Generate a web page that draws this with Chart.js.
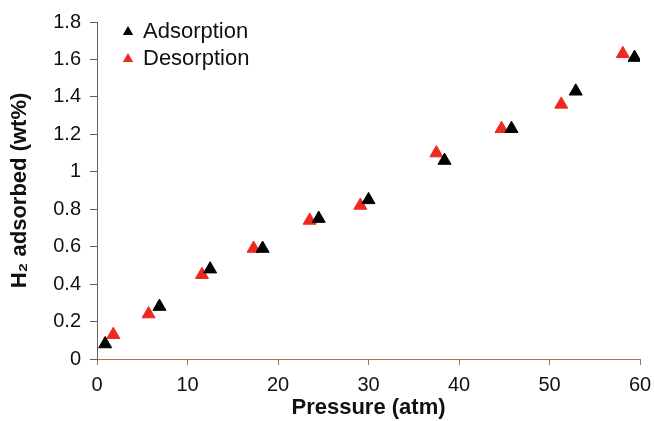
<!DOCTYPE html>
<html>
<head>
<meta charset="utf-8">
<script src="https://cdn.jsdelivr.net/npm/chart.js@4.4.1/dist/chart.umd.min.js"></script>
<style>
  html, body { margin: 0; padding: 0; background: #fff; }
  #wrap { width: 654px; height: 421px; }
</style>
</head>
<body>
<div id="wrap"><canvas id="h2Chart"></canvas></div>
<script>
// pressure (atm) and H2 uptake (wt%)
const adsPressure = [0.9, 6.9, 12.5, 18.3, 24.5, 30.0, 38.4, 45.8, 52.9, 59.4];
const adsValues = [0.08, 0.28, 0.48, 0.59, 0.75, 0.85, 1.06, 1.23, 1.43, 1.61];
const desPressure = [1.8, 5.7, 11.6, 17.3, 23.5, 29.1, 37.5, 44.7, 51.3, 58.1];
const desValues = [0.13, 0.24, 0.45, 0.59, 0.74, 0.82, 1.10, 1.23, 1.36, 1.63];

const xTicks = [0, 10, 20, 30, 40, 50, 60];
const yTicks = [0, 0.2, 0.4, 0.6, 0.8, 1, 1.2, 1.4, 1.6, 1.8];

const FONT = 'Liberation Sans, Arial, Helvetica, sans-serif';

function toPoints(xs, ys) {
  return xs.map((x, i) => ({ x: x, y: ys[i] }));
}

// legend drawn inside the plot, top left, like the original figure
const cornerLegend = {
  id: 'cornerLegend',
  afterDraw(chart) {
    const ctx = chart.ctx;
    const area = chart.chartArea;
    ctx.save();
    ctx.font = '22px ' + FONT;
    ctx.textBaseline = 'middle';
    chart.data.datasets.forEach((ds, i) => {
      const cx = area.left + 31;
      const cy = area.top + 10 + i * 27;
      const r = 6;
      ctx.fillStyle = ds.backgroundColor;
      ctx.beginPath();
      ctx.moveTo(cx, cy - r);
      ctx.lineTo(cx + r * 0.866, cy + r / 2);
      ctx.lineTo(cx - r * 0.866, cy + r / 2);
      ctx.closePath();
      ctx.fill();
      ctx.fillStyle = '#111';
      ctx.fillText(ds.label, cx + 15, cy);
    });
    ctx.restore();
  }
};

document.addEventListener('DOMContentLoaded', () => {
  const ctx = document.getElementById('h2Chart').getContext('2d');

  new Chart(ctx, {
    type: 'scatter',
    data: {
      datasets: [
        {
          label: 'Adsorption',
          data: toPoints(adsPressure, adsValues),
          pointStyle: 'triangle',
          pointRadius: 7.5,
          backgroundColor: '#000000',
          borderColor: '#000000',
          borderWidth: 1
        },
        {
          label: 'Desorption',
          data: toPoints(desPressure, desValues),
          pointStyle: 'triangle',
          pointRadius: 7.5,
          backgroundColor: '#ee2a20',
          borderColor: '#ee2a20',
          borderWidth: 1
        }
      ]
    },
    options: {
      responsive: true,
      maintainAspectRatio: false,
      animation: false,
      layout: { padding: { top: 22, right: 14, left: 0, bottom: 0 } },
      plugins: {
        legend: { display: false },
        tooltip: { enabled: false }
      },
      scales: {
        x: {
          type: 'linear',
          min: 0,
          max: 60,
          afterFit: (scale) => {
            scale.height = 62;
            scale.paddingRight = 0; // let "60" hang into the right margin
          },
          afterBuildTicks: (scale) => { scale.ticks = xTicks.map(v => ({ value: v })); },
          grid: { drawOnChartArea: false, drawTicks: true, tickLength: 6, color: '#b56a5a' },
          border: { display: true, color: '#b56a5a', width: 1 },
          ticks: { color: '#111', padding: 8, font: { family: FONT, size: 20 } },
          title: {
            display: true,
            text: 'Pressure (atm)',
            color: '#111',
            padding: { top: 0, bottom: 0 },
            font: { family: FONT, size: 22, weight: 'bold' }
          }
        },
        y: {
          type: 'linear',
          min: 0,
          max: 1.8,
          afterFit: (scale) => { scale.width = 97; },
          afterBuildTicks: (scale) => { scale.ticks = yTicks.map(v => ({ value: v })); },
          grid: { drawOnChartArea: false, drawTicks: true, tickLength: 7, color: '#6d5f5c' },
          border: { display: true, color: '#6d5f5c', width: 1 },
          ticks: {
            color: '#111',
            padding: 9,
            font: { family: FONT, size: 20 },
            callback: (v) => String(Math.round(v * 10) / 10)
          },
          title: {
            display: true,
            text: 'H₂ adsorbed (wt%)',
            color: '#111',
            padding: { top: 7, bottom: 7 },
            font: { family: FONT, size: 22, weight: 'bold' }
          }
        }
      }
    },
    plugins: [cornerLegend]
  });
});
</script>
</body>
</html>
